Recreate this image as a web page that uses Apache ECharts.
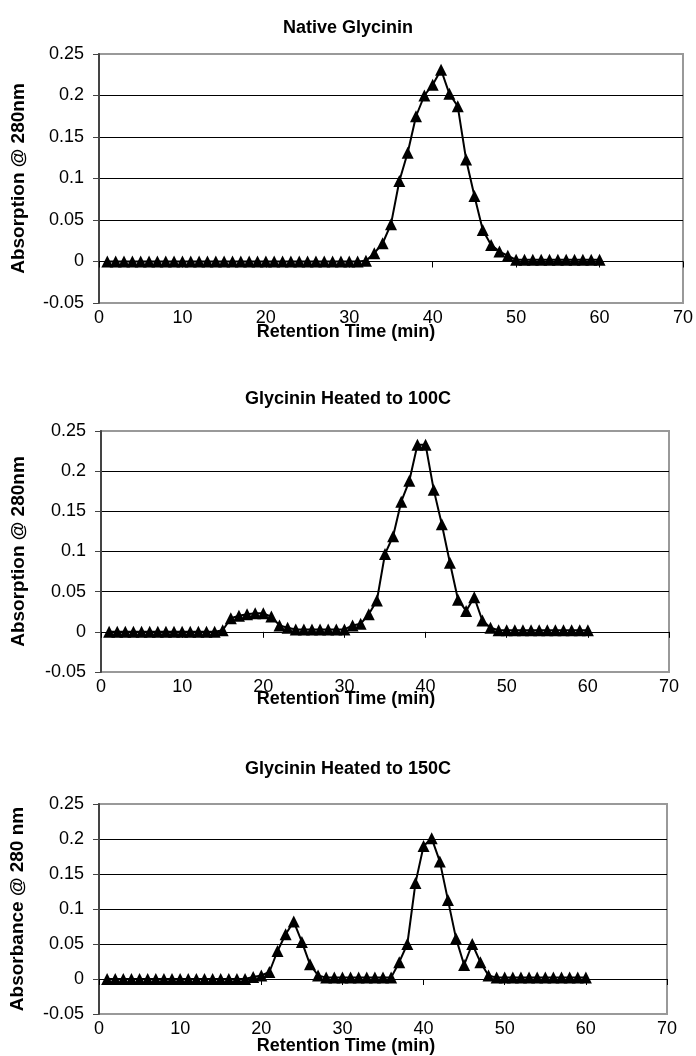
<!DOCTYPE html>
<html>
<head>
<meta charset="utf-8">
<script src="https://cdn.jsdelivr.net/npm/echarts@6/dist/echarts.min.js"></script>
<style>
  html, body { margin: 0; padding: 0; background: #fff; }
  #main { width: 696px; height: 1056px; }
</style>
</head>
<body>
<div id="main"></div>
<script>
// retention time (min), one reading per minute
const minutes = [1, 2, 3, 4, 5, 6, 7, 8, 9, 10, 11, 12, 13, 14, 15, 16, 17, 18, 19, 20,
  21, 22, 23, 24, 25, 26, 27, 28, 29, 30, 31, 32, 33, 34, 35, 36, 37, 38, 39, 40,
  41, 42, 43, 44, 45, 46, 47, 48, 49, 50, 51, 52, 53, 54, 55, 56, 57, 58, 59, 60];

// absorption @ 280nm
const nativeGlycinin = [0, 0, 0, 0, 0, 0, 0, 0, 0, 0, 0, 0, 0, 0, 0, 0, 0, 0, 0, 0,
  0, 0, 0, 0, 0, 0, 0, 0, 0, 0, 0, 0.001, 0.01, 0.022, 0.045, 0.097, 0.131, 0.175, 0.2, 0.213,
  0.231, 0.202, 0.187, 0.123, 0.079, 0.038, 0.02, 0.012, 0.007, 0.002, 0.002, 0.002, 0.002, 0.002, 0.002, 0.002, 0.002, 0.002, 0.002, 0.002];

const heated100 = [0, 0, 0, 0, 0, 0, 0, 0, 0, 0, 0, 0, 0, 0, 0.002, 0.017, 0.02, 0.022, 0.023, 0.023,
  0.019, 0.008, 0.005, 0.003, 0.003, 0.003, 0.003, 0.003, 0.003, 0.003, 0.008, 0.01, 0.022, 0.039, 0.097, 0.119, 0.162, 0.188, 0.233, 0.233,
  0.177, 0.134, 0.086, 0.04, 0.026, 0.043, 0.014, 0.005, 0.002, 0.002, 0.002, 0.002, 0.002, 0.002, 0.002, 0.002, 0.002, 0.002, 0.002, 0.002];

const heated150 = [0, 0, 0, 0, 0, 0, 0, 0, 0, 0, 0, 0, 0, 0, 0, 0, 0, 0, 0.003, 0.005,
  0.01, 0.04, 0.064, 0.082, 0.053, 0.021, 0.005, 0.002, 0.002, 0.002, 0.002, 0.002, 0.002, 0.002, 0.002, 0.002, 0.024, 0.05, 0.137, 0.19,
  0.201, 0.168, 0.113, 0.058, 0.02, 0.05, 0.024, 0.005, 0.002, 0.002, 0.002, 0.002, 0.002, 0.002, 0.002, 0.002, 0.002, 0.002, 0.002, 0.002];

const titles = ['Native Glycinin', 'Glycinin Heated to 100C', 'Glycinin Heated to 150C'];
const yNames = ['Absorption @ 280nm', 'Absorption @ 280nm', 'Absorbance @ 280 nm'];
const xName = 'Retention Time (min)';

const FONT = '"Liberation Sans", Arial, sans-serif';

// plot boxes and text positions of each panel
const panels = [
  { values: nativeGlycinin, grid: { left: 99, top: 54, width: 587, height: 249 }, titleY: 28, xNameY: 332, yGap: 71 },
  { values: heated100, grid: { left: 101, top: 431, width: 568, height: 241 }, titleY: 399, xNameY: 699, yGap: 73 },
  { values: heated150, grid: { left: 99, top: 804, width: 568, height: 210 }, titleY: 769, xNameY: 1046, yGap: 72 }
];

const grids = [], xAxes = [], yAxes = [], series = [], graphics = [];

panels.forEach(function (p, i) {
  grids.push(Object.assign({ show: true, borderColor: '#999', borderWidth: 2, containLabel: false }, p.grid));

  // labelled axis at the bottom of the box
  xAxes.push({
    type: 'value', gridIndex: i, min: 0, max: 70, interval: 10, position: 'bottom',
    axisLine: { show: false, onZero: false },
    axisTick: { show: false },
    splitLine: { show: false },
    axisLabel: { color: '#000', fontSize: 18, fontFamily: FONT, margin: 6 }
  });
  // the line at zero with its tick marks
  xAxes.push({
    type: 'value', gridIndex: i, min: 0, max: 70, interval: 10, position: 'top',
    axisLine: { show: true, onZero: true, lineStyle: { color: '#000', width: 1 } },
    axisTick: { show: true, inside: true, length: 6, lineStyle: { color: '#000', width: 1 } },
    axisLabel: { show: false },
    splitLine: { show: false }
  });

  yAxes.push({
    type: 'value', gridIndex: i, min: -0.05, max: 0.25, interval: 0.05,
    name: yNames[i], nameLocation: 'middle', nameGap: p.yGap,
    nameTextStyle: { color: '#000', fontSize: 19, fontWeight: 'bold', fontFamily: FONT },
    axisLine: { show: true, onZero: false, lineStyle: { color: '#444', width: 2 } },
    axisTick: { show: true, length: 6, lineStyle: { color: '#444', width: 1 } },
    axisLabel: { color: '#000', fontSize: 18, fontFamily: FONT, margin: 15 },
    splitLine: { show: true, lineStyle: { width: 1, color: ['#999', '#000', '#000', '#000', '#000', '#000', '#999'] } }
  });

  series.push({
    type: 'line', xAxisIndex: i * 2, yAxisIndex: i,
    data: minutes.map(function (t, k) { return [t, p.values[k]]; }),
    symbol: 'triangle', symbolSize: [12, 12], showAllSymbol: true,
    itemStyle: { color: '#000' },
    lineStyle: { color: '#000', width: 2 },
    z: 5
  });

  graphics.push({
    type: 'text', x: 348, y: p.titleY,
    style: { text: titles[i], fill: '#000', font: 'bold 18px ' + FONT, textAlign: 'center', textVerticalAlign: 'middle' }
  });
  graphics.push({
    type: 'text', x: 346, y: p.xNameY,
    style: { text: xName, fill: '#000', font: 'bold 18px ' + FONT, textAlign: 'center', textVerticalAlign: 'middle' }
  });
});

const chart = echarts.init(document.getElementById('main'));
chart.setOption({
  animation: false,
  backgroundColor: '#fff',
  grid: grids,
  xAxis: xAxes,
  yAxis: yAxes,
  series: series,
  graphic: graphics
});
</script>
</body>
</html>
